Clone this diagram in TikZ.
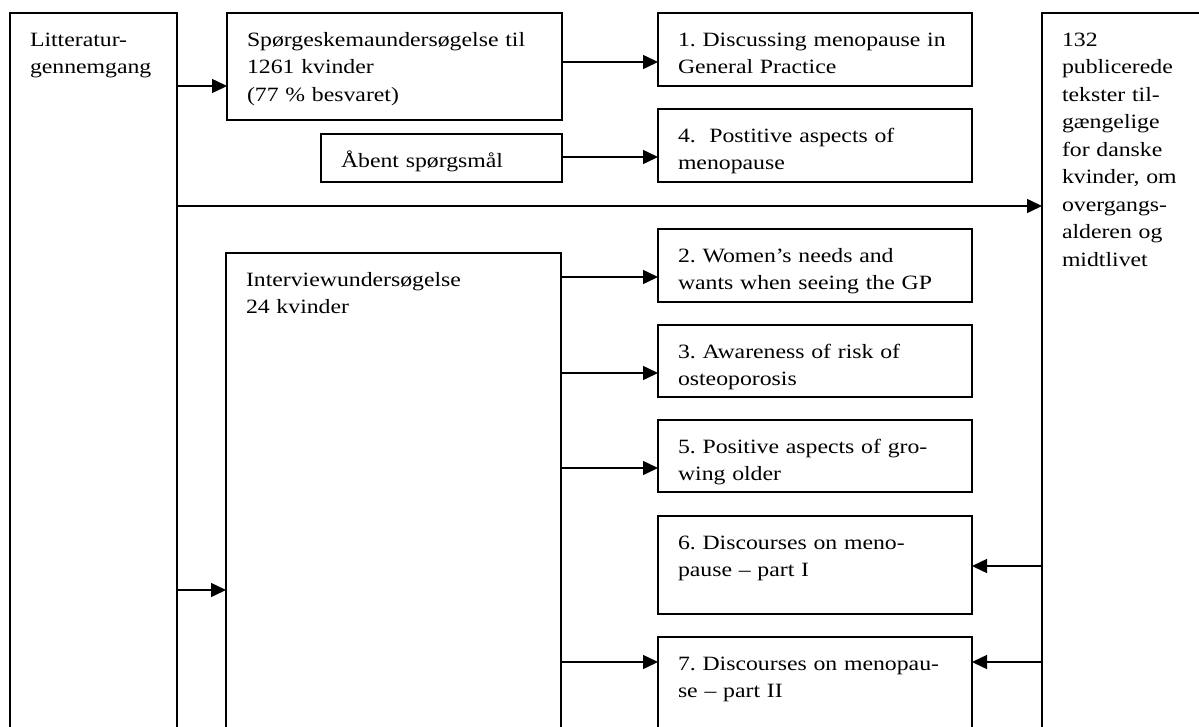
\documentclass[tikz,border=0pt]{standalone}
\usepackage{fontspec}
\setmainfont{Liberation Serif}[FakeStretch=1.17]
\usetikzlibrary{arrows.meta}

\begin{document}
\begin{tikzpicture}[x=1pt,y=-1pt,
  kasse/.style={draw,line width=1.5pt,anchor=north west,align=left,inner xsep=20pt,inner ysep=0pt,outer sep=0pt,text height=33pt,font=\fontsize{20.3}{27.5}\selectfont\frenchspacing},
  pil/.style={line width=1.5pt,-{Triangle[length=15pt,width=14pt]}}]
\useasboundingbox (0,0) rectangle (1199,726);
\clip (0,0) rectangle (1199,726);
\node[kasse,text width=127pt,text depth=728pt] (L) at (10,13) {Litteratur-\\gennemgang};
\node[kasse,text width=295pt,text depth=74pt] (S) at (227,13) {Spørgeskemaundersøgelse til\\1261 kvinder\\(77 \% besvaret)};
\node[kasse,text width=201pt,text depth=15pt] (A) at (321,134) {Åbent spørgsmål};
\node[kasse,text width=295pt,text depth=474pt] (I) at (226,253) {Interviewundersøgelse\\24 kvinder};
\node[kasse,text width=274pt,text depth=40pt] (B1) at (658,13) {1. Discussing menopause in\\General Practice};
\node[kasse,text width=274pt,text depth=40pt] (B4) at (658,109) {4.\ \ Postitive aspects of\\menopause};
\node[kasse,text width=274pt,text depth=40pt] (B2) at (658,229) {2. Women’s needs and\\wants when seeing the GP};
\node[kasse,text width=274pt,text depth=39pt] (B3) at (658,325) {3. Awareness of risk of\\osteoporosis};
\node[kasse,text width=274pt,text depth=39pt] (B5) at (658,420) {5. Positive aspects of gro-\\wing older};
\node[kasse,text width=274pt,text depth=65pt] (B6) at (658,516) {6. Discourses on meno-\\pause -- part I};
\node[kasse,text width=274pt,text depth=67pt] (B7) at (658,637) {7. Discourses on menopau-\\se -- part II};
\node[kasse,text width=150pt,text depth=728pt] (R) at (1042,13) {132\\publicerede\\tekster til-\\gængelige\\for danske\\kvinder, om\\overgangs-\\alderen og\\midtlivet};
\draw[pil] (L.east |- 0,86) -- (S.west |- 0,86);
\draw[pil] (S.east |- 0,62) -- (B1.west |- 0,62);
\draw[pil] (A.east |- 0,157) -- (B4.west |- 0,157);
\draw[pil] (L.east |- 0,206) -- (R.west |- 0,206);
\draw[pil] (L.east |- 0,590) -- (I.west |- 0,590);
\draw[pil] (I.east |- 0,277) -- (B2.west |- 0,277);
\draw[pil] (I.east |- 0,373) -- (B3.west |- 0,373);
\draw[pil] (I.east |- 0,468) -- (B5.west |- 0,468);
\draw[pil] (I.east |- 0,662) -- (B7.west |- 0,662);
\draw[pil] (R.west |- 0,566) -- (B6.east |- 0,566);
\draw[pil] (R.west |- 0,662) -- (B7.east |- 0,662);
\end{tikzpicture}
\end{document}
